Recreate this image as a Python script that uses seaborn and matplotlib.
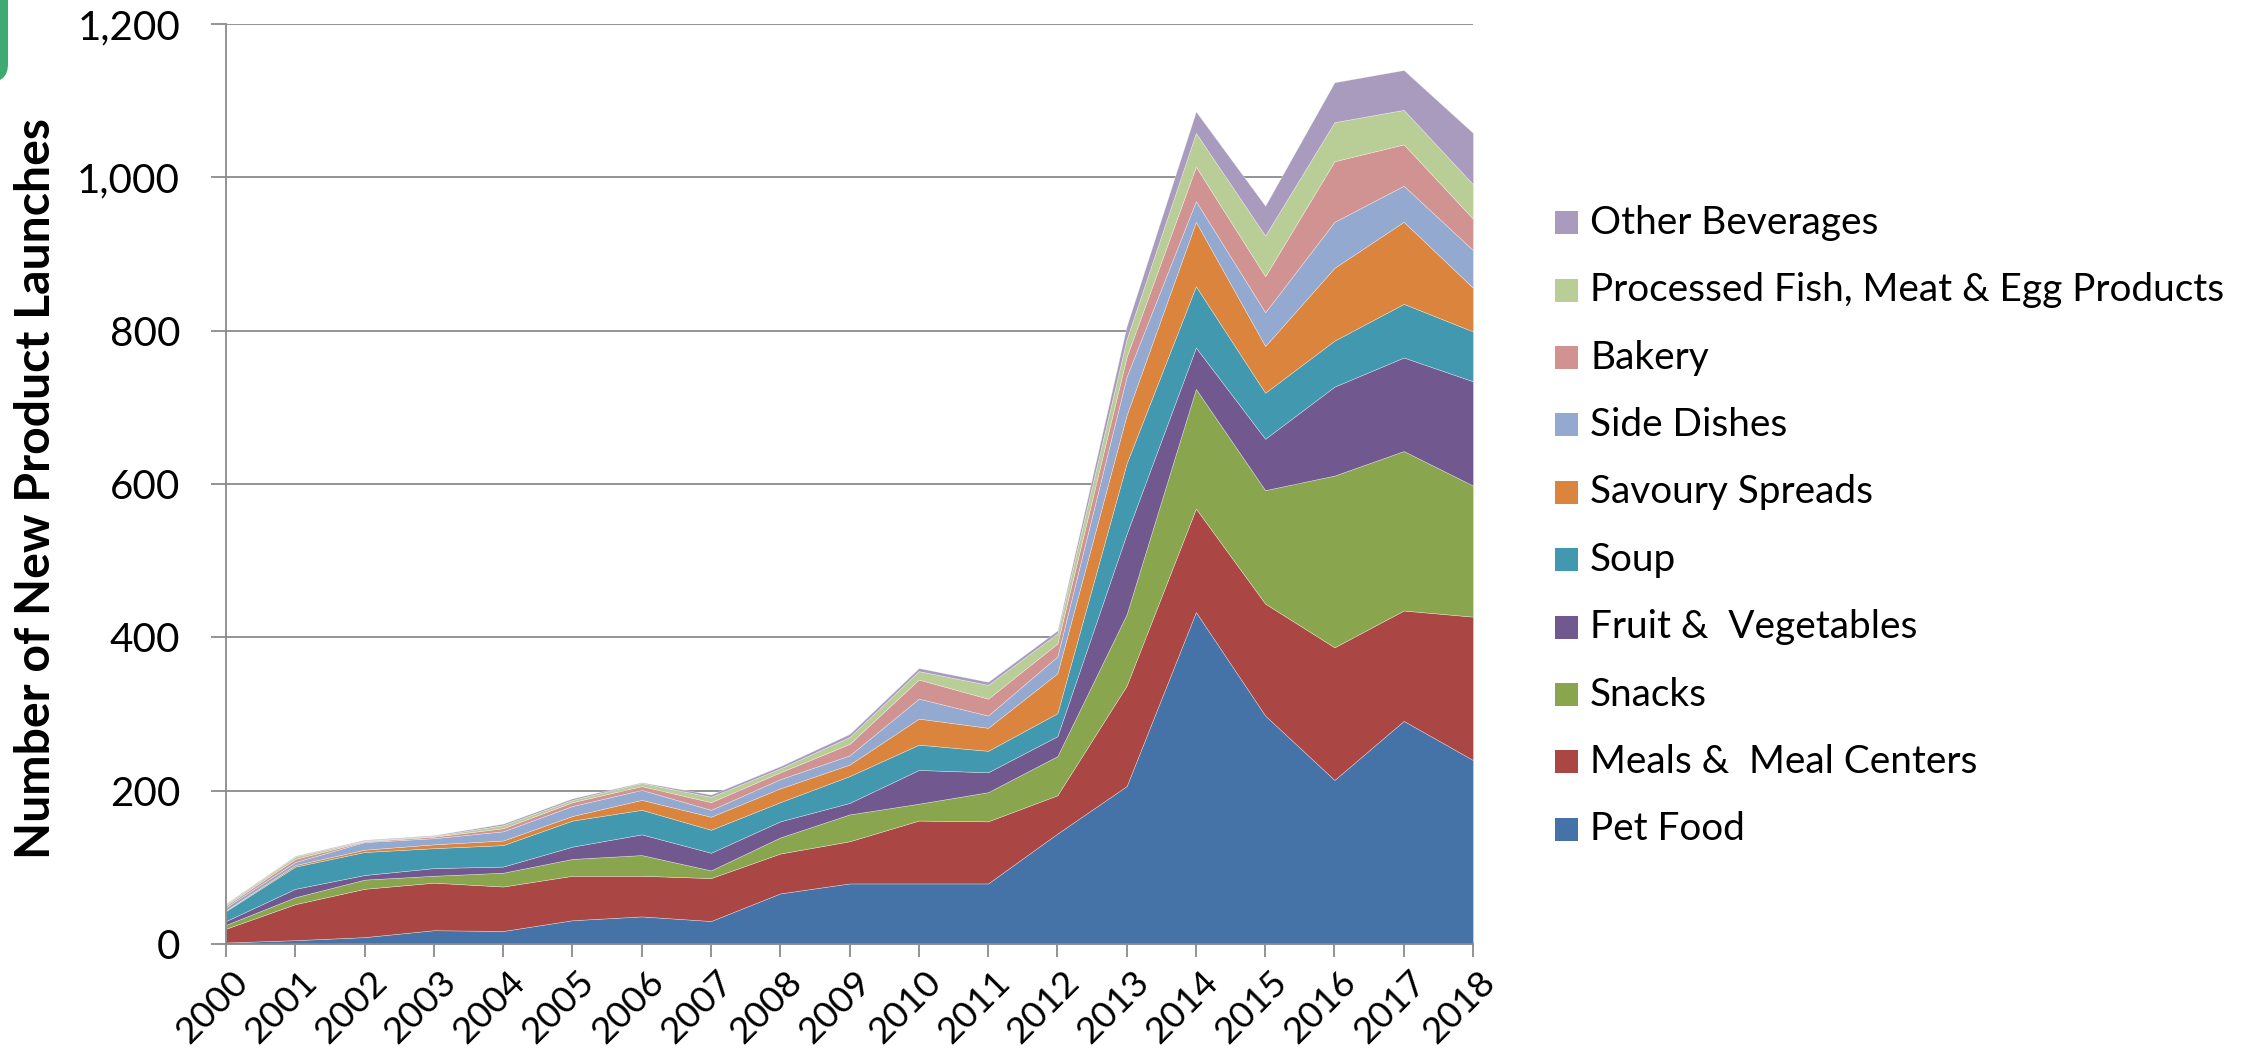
import numpy as np
import pandas as pd
import matplotlib
matplotlib.use("Agg")
import matplotlib.pyplot as plt
import seaborn as sns
from matplotlib.patches import Rectangle, FancyBboxPatch
from matplotlib.ticker import FuncFormatter
from matplotlib.transforms import ScaledTranslation

# ---------------- data ----------------
years = list(range(2000, 2019))
year_labels = [str(y) for y in years]

pet_food        = [2, 5, 9, 18, 17, 31, 36, 30, 66, 79, 79, 79, 144, 206, 433, 298, 214, 291, 240]
meals           = [18, 47, 63, 62, 58, 58, 53, 56, 52, 55, 82, 81, 50, 131, 135, 146, 173, 144, 187]
snacks          = [5, 9, 12, 9, 18, 22, 27, 10, 21, 35, 22, 38, 51, 93, 156, 148, 224, 208, 171]
fruit_veg       = [5, 11, 6, 10, 8, 16, 27, 23, 21, 15, 44, 26, 26, 105, 54, 67, 116, 122, 136]
soup            = [13, 29, 30, 26, 28, 34, 32, 30, 25, 35, 33, 28, 30, 92, 80, 60, 60, 70, 65]
savoury_spreads = [1, 2, 3, 5, 6, 6, 13, 17, 18, 15, 34, 30, 52, 63, 84, 61, 95, 107, 57]
side_dishes     = [4, 4, 10, 8, 12, 13, 13, 9, 12, 12, 26, 16, 22, 50, 27, 44, 60, 47, 49]
bakery          = [2, 4, 1, 2, 4, 5, 5, 10, 9, 15, 25, 22, 17, 26, 45, 47, 79, 54, 41]
processed_fish  = [2, 3, 1, 1, 4, 3, 4, 7, 5, 9, 11, 18, 13, 23, 44, 53, 51, 45, 45]
other_beverages = [1, 1, 1, 1, 2, 2, 1, 3, 3, 4, 4, 4, 4, 17, 28, 39, 52, 52, 67]

categories = ["Pet Food", "Meals &  Meal Centers", "Snacks", "Fruit &  Vegetables",
              "Soup", "Savoury Spreads", "Side Dishes", "Bakery",
              "Processed Fish, Meat & Egg Products", "Other Beverages"]
series = [pet_food, meals, snacks, fruit_veg, soup, savoury_spreads,
          side_dishes, bakery, processed_fish, other_beverages]
y_ticks = [0, 200, 400, 600, 800, 1000, 1200]
y_label = "Number of New Product Launches"

df = pd.DataFrame({c: s for c, s in zip(categories, series)}, index=years)

# ---------------- style ----------------
sns.set_theme(style="white")
FONT = ["Lato", "DejaVu Sans"]
plt.rcParams["font.family"] = FONT
palette = sns.color_palette(["#4572A7", "#AA4643", "#89A54E", "#71588F", "#4198AF",
                             "#DB843D", "#93A9CF", "#D19392", "#B9CD96", "#A99BBD"])
GRAY = "#8A8A8A"

W, H, DPI = 2253, 1049, 100
fig = plt.figure(figsize=(W / DPI, H / DPI), dpi=DPI)
renderer = fig.canvas.get_renderer()


def fit(text, target_px, weight="normal"):
    t = fig.text(0, 0, text, fontsize=20, fontweight=weight, family=FONT)
    w = t.get_window_extent(renderer=renderer).width
    t.remove()
    return 20 * target_px / w


ytick_fs = fit("1,200", 103)
xtick_fs = fit("2000", 86)
legend_fs = fit("Processed Fish, Meat & Egg Products", 635)
ylabel_fs = fit(y_label, 741, weight="bold")

# axes placement (pixel-derived)
left, right, bottom, top = 226, 1473, 944, 24
ax = fig.add_axes([left / W, 1 - bottom / H, (right - left) / W, (bottom - top) / H])

ax.stackplot(df.index, *[df[c].values for c in categories], colors=palette,
             linewidth=0.4, edgecolor=(1, 1, 1, 0.5))

ax.set_xlim(years[0], years[-1])
ax.set_ylim(0, 1200)
ax.set_axisbelow(True)
ax.set_yticks(y_ticks)
ax.yaxis.set_major_formatter(FuncFormatter(lambda v, p: f"{int(v):,}"))
ax.grid(axis="y", color=GRAY, linewidth=1.3)
ax.grid(axis="x", visible=False)
ax.set_xticks(years)

for s in ["top", "right"]:
    ax.spines[s].set_visible(False)
for s in ["left", "bottom"]:
    ax.spines[s].set_color(GRAY)
    ax.spines[s].set_linewidth(1.3)

ax.tick_params(axis="y", which="major", direction="out", length=11, width=1.3,
               color=GRAY, pad=22, labelsize=ytick_fs, labelcolor="black", left=True)
ax.tick_params(axis="x", which="major", direction="out", length=9, width=1.3,
               color=GRAY, pad=6, labelsize=xtick_fs, labelcolor="black", bottom=True,
               labelrotation=45)
ax.set_xticklabels(year_labels, fontsize=xtick_fs, rotation=45, ha="right",
                   va="top", rotation_mode="anchor")

offset = ScaledTranslation(5 / DPI, 0, fig.dpi_scale_trans)
for lab in ax.get_xticklabels():
    lab.set_fontsize(xtick_fs)
    lab.set_transform(lab.get_transform() + offset)

# y label
fig.text(36 / W, 1 - 489 / H, y_label, rotation=90, ha="center", va="center",
         fontsize=ylabel_fs, fontweight="bold", color="black", family=FONT)

# legend (reversed order, like the reference)
sq = 23
for i, (cat, col) in enumerate(zip(categories[::-1], list(palette)[::-1])):
    cy = 222.7 + 67.4 * i
    fig.patches.append(Rectangle((1555 / W, 1 - (cy + sq / 2) / H), sq / W, sq / H,
                                 transform=fig.transFigure, facecolor=col, edgecolor="none"))
    fig.text(1590 / W, 1 - cy / H, cat, ha="left", va="center", fontsize=legend_fs,
             color="black", family=FONT)

# slide decoration at top-left corner
fig.patches.append(FancyBboxPatch((-20 / W, 1 - 82 / H), 28 / W, 100 / H,
                                  boxstyle="round,pad=0,rounding_size=0.008",
                                  transform=fig.transFigure, facecolor="#3DAA72",
                                  edgecolor="none", mutation_aspect=W / H))

fig.savefig("out.png", dpi=DPI)
